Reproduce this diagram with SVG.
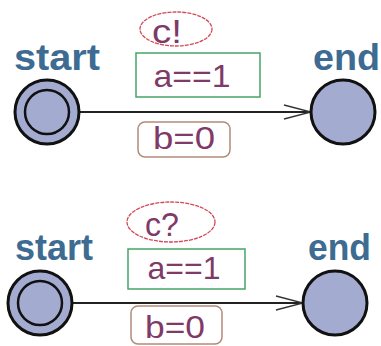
<svg xmlns="http://www.w3.org/2000/svg" width="381" height="346" viewBox="0 0 381 346">
<defs>
<style>
.loc{fill:#a4abd0;stroke:#111;stroke-width:3}
.inner{fill:none;stroke:#111;stroke-width:2.5}
.name{font-family:"Liberation Sans",Arial,sans-serif;font-weight:bold;font-size:36px;fill:#3d6b92}
.lbl{font-family:"Liberation Sans",Arial,sans-serif;font-size:32px;fill:#7f3a68;text-anchor:middle}
.sync{fill:none;stroke:#d24a5a;stroke-width:1.3;stroke-dasharray:4 1}
.guard{fill:none;stroke:#45a468;stroke-width:1.5}
.upd{fill:none;stroke:#b48a78;stroke-width:1.5}
.edge{stroke:#222;stroke-width:1.8;fill:none}
.head{stroke:#333;stroke-width:1.3;fill:none}
</style>
</defs>
<g id="connectors">
<line class="edge" x1="80" y1="112" x2="311" y2="112"/>
<polyline class="head" points="284,105 311,112 284,119"/>
<line class="edge" x1="72" y1="303" x2="303" y2="303"/>
<polyline class="head" points="276,296 303,303 276,310"/>
</g>
<g id="start1">
<circle class="loc" cx="47" cy="112" r="32"/>
<circle class="inner" cx="47" cy="112" r="22"/>
<text class="name" x="14" y="70" textLength="86" lengthAdjust="spacingAndGlyphs">start</text>
</g>
<g id="end1">
<circle class="loc" cx="343" cy="112" r="32"/>
<text class="name" x="313" y="70" textLength="67" lengthAdjust="spacingAndGlyphs">end</text>
</g>
<g id="labels1">
<ellipse class="sync" cx="176" cy="29" rx="36" ry="17"/>
<text class="lbl" x="167" y="43" style="font-size:33px" textLength="30" lengthAdjust="spacingAndGlyphs">c!</text>
<rect class="guard" x="136" y="53" width="124" height="44"/>
<text class="lbl" x="192" y="87" textLength="77" lengthAdjust="spacingAndGlyphs">a==1</text>
<rect class="upd" x="138" y="122" width="92" height="35" rx="7"/>
<text class="lbl" x="184" y="149" textLength="62" lengthAdjust="spacingAndGlyphs">b=0</text>
</g>
<g id="start2">
<circle class="loc" cx="40" cy="303" r="32"/>
<circle class="inner" cx="40" cy="303" r="22"/>
<text class="name" x="15" y="260" textLength="78" lengthAdjust="spacingAndGlyphs">start</text>
</g>
<g id="end2">
<circle class="loc" cx="335" cy="303" r="32"/>
<text class="name" x="308" y="260" textLength="63" lengthAdjust="spacingAndGlyphs">end</text>
</g>
<g id="labels2">
<ellipse class="sync" cx="171" cy="222" rx="44" ry="20"/>
<text class="lbl" x="162" y="236" style="font-size:34px" textLength="34" lengthAdjust="spacingAndGlyphs">c?</text>
<rect class="guard" x="128" y="249" width="117" height="40"/>
<text class="lbl" x="184" y="279" textLength="73" lengthAdjust="spacingAndGlyphs">a==1</text>
<rect class="upd" x="131" y="306" width="91" height="38" rx="7"/>
<text class="lbl" x="175" y="338" textLength="60" lengthAdjust="spacingAndGlyphs">b=0</text>
</g>
</svg>
